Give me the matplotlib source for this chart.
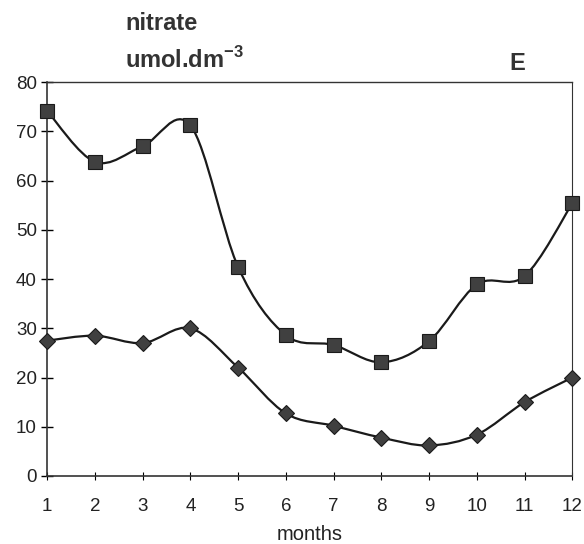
import numpy as np
from matplotlib import pyplot as plt
from matplotlib.path import Path
from matplotlib.patches import PathPatch

# =============================================================================
# data
# =============================================================================
months = [1, 2, 3, 4, 5, 6, 7, 8, 9, 10, 11, 12]
upper = [74.1, 63.8, 67.0, 71.2, 42.4, 28.6, 26.6, 23.1, 27.4, 38.9, 40.6, 55.4]
lower = [27.5, 28.5, 27.0, 30.0, 22.0, 12.7, 10.2, 7.8, 6.2, 8.4, 15.0, 20.0]
yticks = [0, 10, 20, 30, 40, 50, 60, 70, 80]

plt.rcParams['font.family'] = ['Liberation Sans', 'DejaVu Sans']


def smooth_path(x, y, t=1/6):
    # bezier curve through the points (excel style smoothed line)
    x = np.asarray(x, float)
    y = np.asarray(y, float)
    n = len(x)
    verts = [(x[0], y[0])]
    codes = [Path.MOVETO]
    for i in range(n - 1):
        i0 = max(i - 1, 0)
        i3 = min(i + 2, n - 1)
        c1 = (x[i] + (x[i+1] - x[i0]) * t, y[i] + (y[i+1] - y[i0]) * t)
        c2 = (x[i+1] - (x[i3] - x[i]) * t, y[i+1] - (y[i3] - y[i]) * t)
        verts += [c1, c2, (x[i+1], y[i+1])]
        codes += [Path.CURVE4] * 3
    return Path(verts, codes)


fig = plt.figure(figsize=(5.84, 5.44), dpi=100)
ax = fig.add_axes([0.081, 0.125, 0.899, 0.724])

for ys, mk, ms in [(upper, 's', 10), (lower, 'D', 8)]:
    ax.add_patch(PathPatch(smooth_path(months, ys), fill=False,
                           edgecolor='#1a1a1a', lw=1.6, zorder=2))
    ax.plot(months, ys, ls='none', marker=mk, ms=ms, color='#404040',
            mec='#1a1a1a', mew=0.8, zorder=3, clip_on=False)

ax.set_xlim(1, 12)
ax.set_ylim(0, 80)
ax.set_xticks(months)
ax.set_yticks(yticks)
ax.tick_params(axis='y', direction='inout', length=9, width=1, labelsize=13.5, pad=3,
               labelcolor='#222222')
ax.tick_params(axis='x', direction='inout', length=6, width=0.8, labelsize=13.5, pad=13,
               labelcolor='#222222')
for s in ax.spines.values():
    s.set_color('#333333')
ax.spines['left'].set_linewidth(1.2)
ax.spines['bottom'].set_linewidth(1.2)
ax.spines['top'].set_linewidth(1.0)
ax.spines['right'].set_linewidth(0.8)

ax.set_xlabel('months', fontsize=14.5, labelpad=7, color='#222222')
fig.text(0.214, 0.945, 'nitrate', fontsize=17, fontweight='bold', color='#333333')
fig.text(0.214, 0.875, 'umol.dm$^{\\mathregular{-3}}$', fontsize=17,
         fontweight='bold', color='#333333')
fig.text(0.873, 0.871, 'E', fontsize=17, fontweight='bold', color='#333333')

plt.savefig('out.png', dpi=100)
